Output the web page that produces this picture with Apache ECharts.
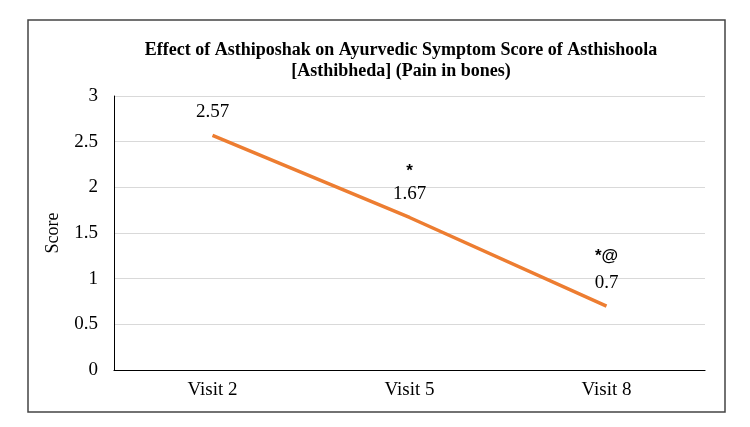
<!DOCTYPE html>
<html>
<head>
<meta charset="utf-8">
<script src="https://cdn.jsdelivr.net/npm/echarts@6/dist/echarts.min.js"></script>
<style>
  html, body { margin: 0; padding: 0; background: #fff; }
  #chart { width: 750px; height: 427px; }
</style>
</head>
<body>
<div id="chart"></div>
<script>
var categories = ['Visit 2', 'Visit 5', 'Visit 8'];
var scores = [2.57, 1.67, 0.7];
var marks = ['', '*', '*@'];
var yTicks = { min: 0, max: 3, interval: 0.5 };

var serif = '"Liberation Serif", "Times New Roman", serif';
var sans = '"Liberation Sans", Arial, sans-serif';
// line height of the significance mark line above each value label
var markLine = [0, 25, 33];

var seriesData = scores.map(function (v, i) {
  return {
    value: v,
    label: {
      formatter: marks[i] ? '{m|' + marks[i] + '}\n{v|' + v + '}' : '{v|' + v + '}',
      rich: {
        m: { fontFamily: sans, fontSize: 17, fontWeight: 'bold', color: '#000', lineHeight: markLine[i] || 20 },
        v: { fontFamily: serif, fontSize: 19, color: '#000', lineHeight: 21 }
      }
    }
  };
});

var chart = echarts.init(document.getElementById('chart'));
chart.setOption({
  animation: false,
  backgroundColor: '#fff',
  title: {
    text: 'Effect of Asthiposhak on Ayurvedic Symptom Score of Asthishoola\n[Asthibheda] (Pain in bones)',
    left: 401,
    top: 40,
    padding: 0,
    textAlign: 'center',
    textStyle: {
      fontFamily: serif,
      fontWeight: 'bold',
      fontSize: 18,
      lineHeight: 21,
      color: '#000'
    }
  },
  graphic: [{
    type: 'rect',
    shape: { x: 28, y: 20, width: 697, height: 392 },
    style: { fill: 'none', stroke: '#444', lineWidth: 1.5 },
    z: -1
  }],
  grid: { left: 114, right: 45, top: 96, bottom: 57 },
  xAxis: {
    type: 'category',
    data: categories,
    axisLine: { lineStyle: { color: '#000', width: 1.2 } },
    axisTick: { show: false },
    axisLabel: { fontFamily: serif, fontSize: 19, color: '#000', margin: 11 }
  },
  yAxis: {
    type: 'value',
    min: yTicks.min,
    max: yTicks.max,
    interval: yTicks.interval,
    name: 'Score',
    nameLocation: 'middle',
    nameGap: 52,
    nameTextStyle: { fontFamily: serif, fontSize: 18, color: '#000' },
    axisLine: { show: true, lineStyle: { color: '#000', width: 1 } },
    axisTick: { show: false },
    axisLabel: { fontFamily: serif, fontSize: 19, color: '#000', margin: 16 },
    splitLine: { lineStyle: { color: '#d9d9d9', width: 1.2 } }
  },
  series: [{
    type: 'line',
    data: seriesData,
    symbol: 'circle',
    symbolSize: 1,
    itemStyle: { color: 'rgba(0,0,0,0)' },
    lineStyle: { color: '#ED7D31', width: 3.5 },
    label: {
      show: true,
      position: 'top',
      distance: 12
    }
  }]
});
</script>
</body>
</html>
